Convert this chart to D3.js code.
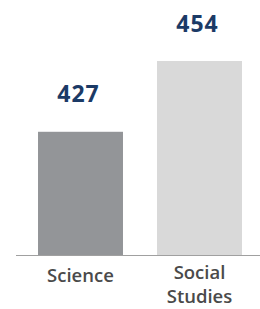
<!DOCTYPE html>
<html><head><meta charset="utf-8">
<script src="https://cdn.jsdelivr.net/npm/d3@7"></script>
<style>body{margin:0;background:#fff}svg{display:block}</style>
</head><body>
<script>
const categories = ["Science", "Social Studies"];
const values = [427, 454];
const colors = ["#939598", "#d9d9d9"];

const W = 260, H = 309;
const svg = d3.select("body").append("svg").attr("width", W).attr("height", H);
const x = d3.scaleBand().domain(categories).range([16, 264]).paddingInner(0.286).paddingOuter(0.185);
const y = d3.scaleLinear().domain([380, 454]).range([255, 61]);

svg.selectAll("rect.bar").data(values).enter().append("rect")
  .attr("x", (d, i) => x(categories[i]))
  .attr("width", x.bandwidth())
  .attr("y", d => y(d))
  .attr("height", d => y(380) - y(d))
  .attr("fill", (d, i) => colors[i]);

svg.append("line").attr("x1", 16).attr("x2", 260).attr("y1", 255.5).attr("y2", 255.5)
  .attr("stroke", "#a0a0a0").attr("stroke-width", 1);

svg.selectAll("text.val").data(values).enter().append("text")
  .attr("x", (d, i) => x(categories[i]) + x.bandwidth() / 2 - 2)
  .attr("y", d => y(d) - 29.5)
  .attr("text-anchor", "middle")
  .attr("font-family", "Open Sans, sans-serif")
  .attr("font-weight", 700)
  .attr("font-size", 23)
  .attr("letter-spacing", 1)
  .attr("fill", "#1b3a66")
  .text(d => d);

const labels = svg.selectAll("text.cat").data(categories).enter().append("text")
  .attr("text-anchor", "middle")
  .attr("font-family", "Open Sans, sans-serif")
  .attr("font-size", 18.5)
  .attr("font-weight", 600)
  .attr("fill", "#4a4a4a")
  .attr("transform", d => `translate(${x(d) + x.bandwidth() / 2},${d.includes(" ") ? 279 : 282})`);
labels.each(function(d) {
  const words = d.split(" ");
  words.forEach((w, j) => d3.select(this).append("tspan").attr("x", 0).attr("dy", j ? 24 : 0).text(w));
});
</script>
</body></html>
